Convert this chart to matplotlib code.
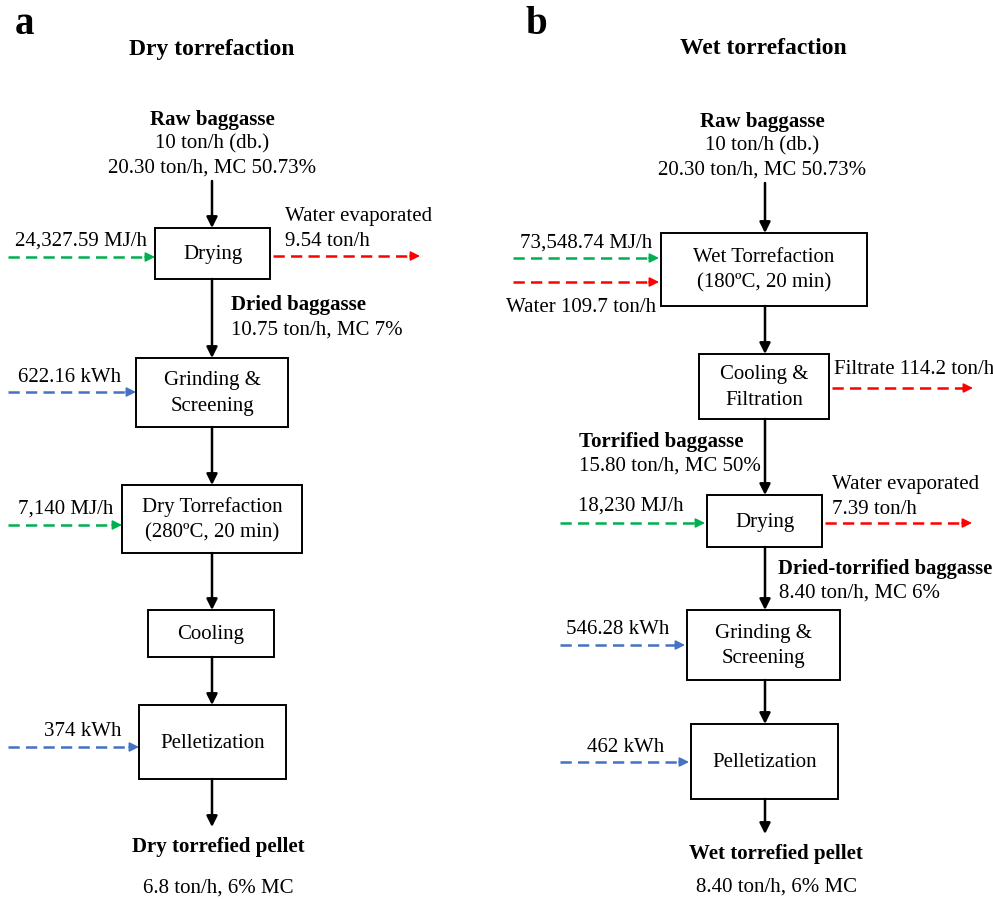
import matplotlib.pyplot as plt
from matplotlib.patches import Rectangle

plt.rcParams['font.family'] = ['Liberation Serif', 'DejaVu Serif']

# panel titles
panel_letters = ["a", "b"]
panel_titles = ["Dry torrefaction", "Wet torrefaction"]

# feed / product stream labels
feed_name = "Raw baggasse"
feed_lines = ["10 ton/h (db.)", "20.30 ton/h, MC 50.73%"]
dry_product = ["Dry torrefied pellet", "6.8 ton/h, 6% MC"]
wet_product = ["Wet torrefied pellet", "8.40 ton/h, 6% MC"]

# unit operations (box text)
dry_units = ["Drying", "Grinding &\nScreening", "Dry Torrefaction\n(280\u00baC, 20 min)",
             "Cooling", "Pelletization"]
wet_units = ["Wet Torrefaction\n(180\u00baC, 20 min)", "Cooling &\nFiltration", "Drying",
             "Grinding &\nScreening", "Pelletization"]

# intermediate streams
dry_mid = [("Dried baggasse", "10.75 ton/h, MC 7%")]
wet_mid = [("Torrified baggasse", "15.80 ton/h, MC 50%"),
           ("Dried-torrified baggasse", "8.40 ton/h, MC 6%")]

# side streams: (label, kind)
dry_inputs = [("24,327.59 MJ/h", "heat"), ("622.16 kWh", "power"),
              ("7,140 MJ/h", "heat"), ("374 kWh", "power")]
dry_outputs = [("Water evaporated\n9.54 ton/h", "water")]
wet_inputs = [("73,548.74 MJ/h", "heat"), ("Water 109.7 ton/h", "water"),
              ("18,230 MJ/h", "heat"), ("546.28 kWh", "power"), ("462 kWh", "power")]
wet_outputs = [("Filtrate 114.2 ton/h", "water"), ("Water evaporated\n7.39 ton/h", "water")]

colors = {"heat": "#00b050", "power": "#4472c4", "water": "#ff0000"}

# layout (pixel coords: x0, y0, x1, y1)
dry_boxes = [(155, 228, 270, 279), (136, 358, 288, 427), (122, 485, 302, 553),
             (148, 610, 274, 657), (139, 705, 286, 779)]
wet_boxes = [(661, 233, 867, 306), (699, 354, 829, 419), (707, 495, 822, 547),
             (687, 610, 840, 680), (691, 724, 838, 799)]

fs = 15

fig = plt.figure(figsize=(9.93, 8.99), dpi=100)
ax = fig.add_axes([0, 0, 1, 1])
ax.set_xlim(0, 993)
ax.set_ylim(899, 0)
ax.axis("off")


def solid_arrow(x, y0, y1):
    ax.annotate("", xy=(x, y1), xytext=(x, y0),
                arrowprops=dict(arrowstyle="-|>", color="black", lw=1.8,
                                mutation_scale=16, shrinkA=0, shrinkB=0))


def dashed_arrow(x0, x1, y, kind):
    c = colors[kind]
    ax.plot([x0, x1 - 8], [y, y], color=c, lw=1.8, dashes=(4.5, 2.5))
    ax.annotate("", xy=(x1, y), xytext=(x1 - 10, y),
                arrowprops=dict(arrowstyle="-|>", color=c, lw=1.2,
                                mutation_scale=14, shrinkA=0, shrinkB=0))


def draw_boxes(boxes, labels):
    for (x0, y0, x1, y1), lab in zip(boxes, labels):
        ax.add_patch(Rectangle((x0, y0), x1 - x0, y1 - y0, fill=False, ec="black", lw=1.4))
        ax.text((x0 + x1) / 2, (y0 + y1) / 2 + 1, lab, ha="center", va="center",
                fontsize=fs, linespacing=1.45)


# ---- panel a ----
ax.text(15, 24, panel_letters[0], fontsize=28, fontweight="bold", va="center")
ax.text(212, 49, panel_titles[0], fontsize=17, fontweight="bold", ha="center", va="center")
ax.text(212, 120, feed_name, fontsize=fs, fontweight="bold", ha="center", va="center")
ax.text(212, 144, feed_lines[0], fontsize=fs, ha="center", va="center")
ax.text(212, 168, feed_lines[1], fontsize=fs, ha="center", va="center")

draw_boxes(dry_boxes, dry_units)
cx = 212
solid_arrow(cx, 181, dry_boxes[0][1])
for a, b in zip(dry_boxes[:-1], dry_boxes[1:]):
    solid_arrow(cx, a[3], b[1])
solid_arrow(cx, dry_boxes[-1][3], 827)

ax.text(231, 305, dry_mid[0][0], fontsize=fs, fontweight="bold", va="center")
ax.text(231, 330, dry_mid[0][1], fontsize=fs, va="center")

ax.text(218, 847, dry_product[0], fontsize=fs, fontweight="bold", ha="center", va="center")
ax.text(218, 888, dry_product[1], fontsize=fs, ha="center", va="center")

# side inputs panel a
in_rows = [(0, 257, 15, 241), (1, 392, 18, 377), (2, 525, 18, 509), (4, 747, 44, 732)]
for (lab, kind), (bi, y, tx, ty) in zip(dry_inputs, in_rows):
    dashed_arrow(8, dry_boxes[bi][0], y, kind)
    ax.text(tx, ty, lab, fontsize=fs, va="center")

lab, kind = dry_outputs[0]
dashed_arrow(dry_boxes[0][2] + 3, 420, 256, kind)
ax.text(285, 229, lab, fontsize=fs, va="center", linespacing=1.45)

# ---- panel b ----
ax.text(525, 24, panel_letters[1], fontsize=28, fontweight="bold", va="center")
ax.text(763, 49, panel_titles[1], fontsize=17, fontweight="bold", ha="center", va="center")
ax.text(762, 122, feed_name, fontsize=fs, fontweight="bold", ha="center", va="center")
ax.text(762, 146, feed_lines[0], fontsize=fs, ha="center", va="center")
ax.text(762, 170, feed_lines[1], fontsize=fs, ha="center", va="center")

draw_boxes(wet_boxes, wet_units)
cx = 765
solid_arrow(cx, 183, wet_boxes[0][1])
for a, b in zip(wet_boxes[:-1], wet_boxes[1:]):
    solid_arrow(cx, a[3], b[1])
solid_arrow(cx, wet_boxes[-1][3], 834)

ax.text(579, 442, wet_mid[0][0], fontsize=fs, fontweight="bold", va="center")
ax.text(579, 466, wet_mid[0][1], fontsize=fs, va="center")
ax.text(778, 569, wet_mid[1][0], fontsize=14.8, fontweight="bold", va="center")
ax.text(779, 593, wet_mid[1][1], fontsize=fs, va="center")

ax.text(776, 854, wet_product[0], fontsize=fs, fontweight="bold", ha="center", va="center")
ax.text(776, 887, wet_product[1], fontsize=fs, ha="center", va="center")

w_rows = [(0, 513, 258, 520, 243), (0, 513, 282, 506, 308), (2, 560, 523, 578, 506),
          (3, 560, 645, 566, 629), (4, 560, 762, 587, 747)]
for (lab, kind), (bi, x0, y, tx, ty) in zip(wet_inputs, w_rows):
    dashed_arrow(x0, wet_boxes[bi][0] - 2, y, kind)
    ax.text(tx, ty, lab, fontsize=fs, va="center")

w_out = [(1, 388, 973, 834, 370), (2, 523, 972, 832, 497)]
for (lab, kind), (bi, y, x1, tx, ty) in zip(wet_outputs, w_out):
    dashed_arrow(wet_boxes[bi][2] + 3, x1, y, kind)
    ax.text(tx, ty, lab, fontsize=fs, va="center", linespacing=1.45)

fig.savefig("out.png", dpi=100)
